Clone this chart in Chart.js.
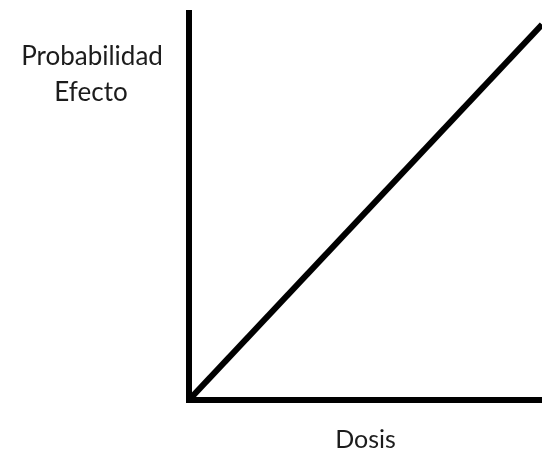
<!DOCTYPE html>
<html>
<head>
<meta charset="utf-8">
<script src="https://cdn.jsdelivr.net/npm/chart.js@4"></script>
<style>
  html, body { margin: 0; padding: 0; background: #fff; }
  #wrap { width: 542px; height: 472px; position: relative; }
</style>
</head>
<body>
<div id="wrap"><canvas id="chart"></canvas></div>
<script>
// Dose-response sketch: straight line from origin
const dosis = [0, 1];
const probabilidad = [0, 0.97];
const yLabelLines = ["Probabilidad", "Efecto"];
const xLabel = "Dosis";

const textFont = "Lato, 'Open Sans', sans-serif";

// draws the horizontal y-axis label to the left of the axis
const yLabelPlugin = {
  id: "yLabel",
  afterDraw(chart) {
    const ctx = chart.ctx;
    const left = chart.chartArea.left;
    ctx.save();
    ctx.font = "26px " + textFont;
    ctx.fillStyle = "#1c1c1c";
    ctx.textAlign = "center";
    ctx.textBaseline = "alphabetic";
    yLabelLines.forEach((line, i) => {
      ctx.fillText(line, left - 97 - i, 65 + i * 36);
    });
    ctx.restore();
  },
};

const ctx = document.getElementById("chart").getContext("2d");

new Chart(ctx, {
  type: "scatter",
  data: {
    datasets: [
      {
        data: dosis.map((d, i) => ({ x: d, y: probabilidad[i] })),
        showLine: true,
        borderColor: "#000",
        borderWidth: 6,
        pointRadius: 0,
        fill: false,
      },
    ],
  },
  options: {
    responsive: true,
    maintainAspectRatio: false,
    animation: false,
    layout: {
      padding: { left: 189, top: 13, right: 0, bottom: 0 },
    },
    scales: {
      x: {
        type: "linear",
        min: 0,
        max: 1,
        ticks: { display: false },
        grid: { display: false, drawTicks: false },
        border: { display: true, color: "#000", width: 6 },
        title: {
          display: true,
          text: xLabel,
          color: "#1c1c1c",
          font: { family: textFont, size: 25 },
          padding: { top: 25, bottom: 17 },
        },
      },
      y: {
        min: 0,
        max: 1,
        ticks: { display: false },
        grid: { display: false, drawTicks: false },
        border: { display: true, color: "#000", width: 6 },
      },
    },
    plugins: {
      legend: { display: false },
      tooltip: { enabled: false },
    },
  },
  plugins: [yLabelPlugin],
});
</script>
</body>
</html>
